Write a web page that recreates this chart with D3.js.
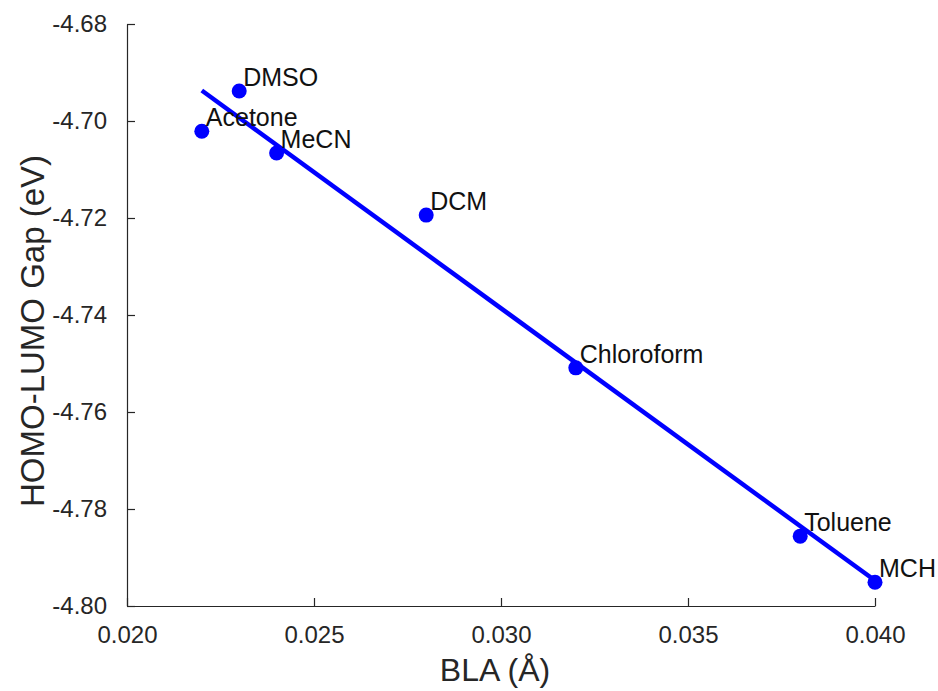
<!DOCTYPE html>
<html>
<head>
<meta charset="utf-8">
<script src="https://cdn.jsdelivr.net/npm/d3@7"></script>
<style>
  html, body { margin: 0; padding: 0; background: #fff; }
  svg { display: block; font-family: "Liberation Sans", Arial, Helvetica, sans-serif; }
</style>
</head>
<body>
<svg id="chart" width="938" height="691"></svg>
<script>
// Solvent data: bond length alternation vs HOMO-LUMO gap
const solvents = ["Acetone", "DMSO", "MeCN", "DCM", "Chloroform", "Toluene", "MCH"];
const bla      = [0.022, 0.023, 0.024, 0.028, 0.032, 0.038, 0.040];
const gap      = [-4.7021, -4.6938, -4.7066, -4.7194, -4.7509, -4.7856, -4.7951];

const xTicks = [0.020, 0.025, 0.030, 0.035, 0.040];
const yTicks = [-4.68, -4.70, -4.72, -4.74, -4.76, -4.78, -4.80];

const margin = { left: 127, right: 63, top: 24, bottom: 85 };
const W = 938, H = 691;

const svg = d3.select("#chart");

const x = d3.scaleLinear().domain([0.020, 0.040]).range([margin.left, W - margin.right]);
const y = d3.scaleLinear().domain([-4.80, -4.68]).range([H - margin.bottom, margin.top]);

const axisColor = "#262626";

// Bottom axis with inward ticks
const gx = svg.append("g")
  .attr("transform", `translate(0,${y(-4.80)})`)
  .call(d3.axisBottom(x).tickValues(xTicks).tickFormat(d3.format(".3f"))
    .tickSizeInner(-8).tickSizeOuter(0).tickPadding(20));
gx.select(".domain").attr("stroke", axisColor).attr("stroke-width", 1.2);
gx.selectAll(".tick line").attr("stroke", axisColor).attr("stroke-width", 1.2);
gx.selectAll(".tick text").attr("fill", axisColor).attr("font-size", 24)
  .attr("font-family", "Liberation Sans, Arial, sans-serif");

// Left axis with inward ticks
const gy = svg.append("g")
  .attr("transform", `translate(${x(0.020)},0)`)
  .call(d3.axisLeft(y).tickValues(yTicks).tickFormat(d3.format(".2f"))
    .tickSizeInner(-8).tickSizeOuter(0).tickPadding(20));
gy.select(".domain").attr("stroke", axisColor).attr("stroke-width", 1.2);
gy.selectAll(".tick line").attr("stroke", axisColor).attr("stroke-width", 1.2);
gy.selectAll(".tick text").attr("fill", axisColor).attr("font-size", 24)
  .attr("font-family", "Liberation Sans, Arial, sans-serif")
  .text(d => d3.format(".2f")(d).replace("−", "-"));

// Least-squares fit line across the data range
const n = bla.length;
const mx = d3.mean(bla), my = d3.mean(gap);
let sxy = 0, sxx = 0;
for (let i = 0; i < n; i++) {
  sxy += (bla[i] - mx) * (gap[i] - my);
  sxx += (bla[i] - mx) * (bla[i] - mx);
}
const slope = sxy / sxx;
const intercept = my - slope * mx;
const xFit = d3.extent(bla);

svg.append("line")
  .attr("x1", x(xFit[0])).attr("y1", y(intercept + slope * xFit[0]))
  .attr("x2", x(xFit[1])).attr("y2", y(intercept + slope * xFit[1]))
  .attr("stroke", "#0000ff").attr("stroke-width", 4.5);

// Data points
const pts = solvents.map((s, i) => ({ name: s, bla: bla[i], gap: gap[i] }));
svg.append("g").selectAll("circle").data(pts).join("circle")
  .attr("cx", d => x(d.bla)).attr("cy", d => y(d.gap))
  .attr("r", 7.5).attr("fill", "#0000ff");

// Solvent labels
svg.append("g").selectAll("text").data(pts).join("text")
  .attr("x", d => x(d.bla) + 4).attr("y", d => y(d.gap) - 5)
  .attr("font-size", 25).attr("fill", "#111")
  .text(d => d.name);

// Axis titles
svg.append("text")
  .attr("x", (x(0.020) + x(0.040)) / 2 - 6).attr("y", 681)
  .attr("text-anchor", "middle").attr("font-size", 32).attr("fill", axisColor)
  .text("BLA (Å)");

svg.append("text")
  .attr("transform", `translate(44,${(y(-4.68) + y(-4.80)) / 2 + 16}) rotate(-90)`)
  .attr("text-anchor", "middle").attr("font-size", 33).attr("fill", axisColor)
  .text("HOMO-LUMO Gap (eV)");
</script>
</body>
</html>
